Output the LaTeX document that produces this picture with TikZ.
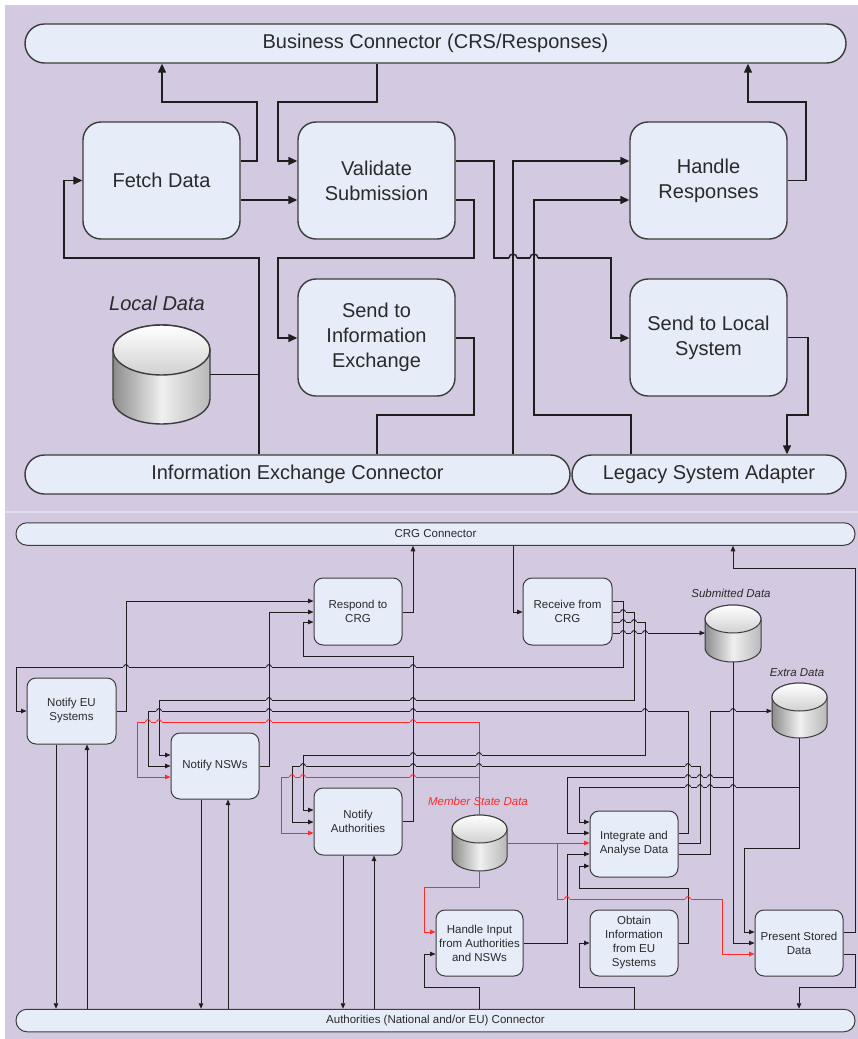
\documentclass[tikz,border=0pt]{standalone}
\usepackage{fontspec}
\setmainfont{Liberation Sans}
\usetikzlibrary{arrows.meta,calc}
\definecolor{lav}{HTML}{D3C9E0}
\definecolor{lavline}{HTML}{E3DCEC}
\definecolor{boxc}{HTML}{E6ECF8}
\definecolor{bordc}{HTML}{3C3C3C}
\definecolor{linec}{HTML}{1E1E1E}
\definecolor{txtc}{HTML}{2A2A2A}
\definecolor{redc}{HTML}{FF2A2A}
\newcommand\myTopFont{\fontsize{20}{25}\selectfont}
\newcommand\myBotFont{\fontsize{11.5}{14}\selectfont}
\newcommand\drawcyl[4]{% name, rx, ry, lw
  \path[draw=bordc, line width=#4, left color=black!45, right color=black!28, middle color=black!6]
    ([yshift=-#3pt]#1.north west) -- ([yshift=#3pt]#1.south west)
    arc[start angle=180,end angle=360,x radius=#2pt,y radius=#3pt]
    -- ([yshift=-#3pt]#1.north east)
    arc[start angle=0,end angle=180,x radius=#2pt,y radius=#3pt] -- cycle;
  \path[draw=bordc, line width=#4, top color=white, bottom color=black!18]
    ([yshift=-#3pt]#1.north) ellipse[x radius=#2pt, y radius=#3pt];
}
\newcommand\bhop[4]{% x, y, hcolor, vcolor
  \fill[lav] (#1-2.6,#2-1.1) rectangle (#1+2.6,#2+1.1);
  \draw[line width=0.9pt, draw=#4] (#1,#2-3.5) -- (#1,#2+3.5);
  \draw[line width=0.9pt, draw=#3] (#1-2.4,#2) arc[start angle=180,end angle=0,radius=2.4pt];
}
\newcommand\thop[2]{%
  \fill[lav] (#1-4.2,#2-1.3) rectangle (#1+4.2,#2+1.3);
  \draw[line width=1.4pt, draw=linec] (#1,#2-5) -- (#1,#2+5);
  \draw[line width=1.4pt, draw=linec] (#1-4,#2) arc[start angle=180,end angle=0,radius=4pt];
}
\begin{document}
\begin{tikzpicture}[x=1pt,y=-1pt,
  topbox/.style={draw=bordc, fill=boxc, line width=1.4pt, rounded corners=18pt,
    minimum width=157pt, minimum height=117pt, align=center, font=\myTopFont,
    text=txtc, inner sep=0pt},
  topbar/.style={draw=bordc, fill=boxc, line width=1.4pt, rounded corners=19.5pt,
    minimum height=39pt, font=\myTopFont, text=txtc, inner sep=0pt},
  botbox/.style={draw=bordc, fill=boxc, line width=1pt, rounded corners=9pt,
    minimum width=88pt, minimum height=66pt, align=center, font=\myBotFont,
    text=txtc, inner sep=0pt},
  botbar/.style={draw=bordc, fill=boxc, line width=1pt, rounded corners=11pt,
    minimum height=22.5pt, font=\myBotFont, text=txtc, inner sep=0pt},
  cylnode/.style={inner sep=0pt, outer sep=0pt},
  tline/.style={line width=1.4pt, draw=linec},
  tarr/.style={tline, -{Triangle[length=9pt,width=8pt]}},
  bline/.style={line width=0.9pt, draw=linec},
  barr/.style={bline, -{Triangle[length=5.5pt,width=4.5pt]}},
  rarr/.style={line width=0.9pt, draw=redc, -{Triangle[length=5.5pt,width=4.5pt]}},
  lbl/.style={font=\myBotFont\itshape, text=txtc, inner sep=0pt}
]
\useasboundingbox (0,0) rectangle (858,1039);
\fill[white] (0,0) rectangle (858,1039);
\fill[lav] (5,5) rectangle (858,1039);
\draw[lavline, line width=1.2pt] (5,512) -- (858,512);

% ---------------- TOP PANEL ----------------
\node[topbar, minimum width=821pt] (bc) at (435.5,43.5) {Business Connector (CRS/Responses)};
\node[topbar, minimum width=545pt] (iec) at (297.5,474.5) {Information Exchange Connector};
\node[topbar, minimum width=274pt] (legacy) at (709,474.5) {Legacy System Adapter};
\node[topbox] (fetch) at (161.5,180.5) {Fetch Data};
\node[topbox] (validate) at (376.5,180.5) {Validate\\Submission};
\node[topbox] (sendie) at (376.5,337.5) {Send to\\Information\\Exchange};
\node[topbox] (handle) at (708.5,180.5) {Handle\\Responses};
\node[topbox] (sendlocal) at (708.5,337.5) {Send to Local\\System};
\node[cylnode, minimum width=97pt, minimum height=99pt] (ld) at (161.5,374.5) {};
\drawcyl{ld}{48.5}{25}{1.4pt}
\node[font=\myTopFont\itshape, text=txtc, inner sep=0pt] (ldl) at (157,303) {Local Data};

\draw[tarr] (fetch.east |- 0,161) -- (257,161) |- (162,102) -- (bc.south -| 162,0);
\draw[tarr] (bc.south -| 377,0) |- (278,102) |- (validate.west |- 0,161);
\draw[tarr] (fetch.east |- 0,200) -- (validate.west |- 0,200);
\draw[tarr] (iec.north -| 259,0) |- (64,258) |- (fetch.west);
\draw[tline] (ld.east) -- (ld.east -| 259,0);
\draw[tarr] (validate.east |- 0,161) -- (494,161) |- (611,258) |- (sendlocal.west |- 0,338);
\draw[tarr] (validate.east |- 0,200) -- (474,200) |- (278,258) |- (sendie.west |- 0,338);
\draw[tline] (sendie.east |- 0,338) -- (474,338) |- (377,415) -- (iec.north -| 377,0);
\draw[tarr] (iec.north -| 513,0) |- (handle.west |- 0,161);
\draw[tarr] (legacy.north -| 631,0) |- (534,415) |- (handle.west |- 0,200);
\draw[tarr] (handle.east) -| (806,102) -| (bc.south -| 748,0);
\draw[tarr] (sendlocal.east) -| (808,415) -| (legacy.north -| 787,0);
\thop{513}{258}
\thop{534}{258}

% ---------------- BOTTOM PANEL ----------------
\node[botbar, minimum width=839pt] (crg) at (435.5,534) {CRG Connector};
\node[botbar, minimum width=839pt] (authconn) at (435.5,1020.5) {Authorities (National and/or EU) Connector};
\node[botbox, minimum height=67pt] (respond) at (358,611.5) {Respond to\\CRG};
\node[botbox, minimum width=89pt, minimum height=67pt] (receive) at (567.5,611.5) {Receive from\\CRG};
\node[botbox, minimum width=89pt] (notifyeu) at (71.5,711) {Notify EU\\Systems};
\node[botbox] (nsw) at (215,766) {Notify NSWs};
\node[botbox, minimum height=67pt] (auth) at (358,821.5) {Notify\\Authorities};
\node[botbox] (integrate) at (634,844) {Integrate and\\Analyse Data};
\node[botbox, minimum width=87pt] (handleinput) at (479.5,943) {Handle Input\\from Authorities\\and NSWs};
\node[botbox] (obtain) at (634,943) {Obtain\\Information\\from EU\\Systems};
\node[botbox] (present) at (799,943) {Present Stored\\Data};

\node[cylnode, minimum width=56pt, minimum height=57pt] (sd) at (733,633.5) {};
\drawcyl{sd}{28}{14}{1pt}
\node[cylnode, minimum width=55pt, minimum height=55pt] (ed) at (799.5,710.5) {};
\drawcyl{ed}{27.5}{14}{1pt}
\node[cylnode, minimum width=55pt, minimum height=56pt] (ms) at (479.5,843) {};
\drawcyl{ms}{27.5}{14}{1pt}
\node[lbl] (sdl) at (731,593) {Submitted Data};
\node[lbl] (edl) at (797,673) {Extra Data};
\node[lbl, text=redc] (msl) at (478,801) {Member State Data};

% red connectors
\draw[rarr] (ms.north) |- (137,722) |- (nsw.west |- 0,777);
\draw[rarr] (ms.north) |- (281,777) |- (auth.west |- 0,833);
\draw[rarr] (ms.east) -- (integrate.west |- ms.east);
\draw[rarr] (ms.east) -| (557,899) -| (722,954) -- (present.west |- 0,954);
\draw[rarr] (ms.south) |- (424,887) |- (handleinput.west |- 0,932);

% black connectors
\draw[barr] (crg.south -| 513,0) |- (receive.west |- 0,612);
\draw[barr] (respond.east |- 0,612) -| (crg.south -| 413,0);
\draw[barr] (notifyeu.east) -| (126,601) -- (respond.west |- 0,601);
\draw[barr] (nsw.east) -| (269,612) -- (respond.west |- 0,612);
\draw[barr] (auth.east) -| (413,656) -| (303,622) -- (respond.west |- 0,622);
\draw[barr] (receive.east |- 0,601) -| (623,667) -| (16,711) -- (notifyeu.west);
\draw[barr] (receive.east |- 0,612) -| (634,700) -| (159,755) -- (nsw.west |- 0,755);
\draw[barr] (receive.east |- 0,622) -| (645,755) -| (303,810) -- (auth.west |- 0,810);
\draw[barr] (receive.east |- 0,633) -- (sd.west |- 0,633);
\draw[barr] (integrate.east |- 0,833) -| (688,711) -| (148,766) -- (nsw.west |- 0,766);
\draw[barr] (integrate.east |- 0,843) -| (700,766) -| (292,822) -- (auth.west |- 0,822);
\draw[barr] (integrate.east |- 0,854) -| (710,711) -- (ed.west |- 0,711);
\draw[barr] (sd.south) |- (567,777) |- (integrate.west |- 0,833);
\draw[barr] (sd.south) |- (present.west |- 0,943);
\draw[barr] (ed.south) |- (579,787) |- (integrate.west |- 0,822);
\draw[barr] (ed.south) |- (744,848) |- (present.west |- 0,932);
\draw[barr] (handleinput.east) -| (567,854) -- (integrate.west |- 0,854);
\draw[barr] (obtain.east) -| (688,888) -| (579,866) -- (integrate.west |- 0,866);
\draw[barr] (present.east |- 0,932) -| (855,568) -| (crg.south -| 733,0);
\draw[barr] (present.east |- 0,954) -| (855,987) -| (authconn.north -| 799,0);
\draw[barr] (authconn.north -| 634,0) |- (579,987) |- (obtain.west);
\draw[barr] (authconn.north -| 479,0) |- (424,987) |- (handleinput.west |- 0,954);
\draw[barr] (notifyeu.south -| 56,0) -- (authconn.north -| 56,0);
\draw[barr] (authconn.north -| 87,0) -- (notifyeu.south -| 87,0);
\draw[barr] (nsw.south -| 201,0) -- (authconn.north -| 201,0);
\draw[barr] (authconn.north -| 228,0) -- (nsw.south -| 228,0);
\draw[barr] (auth.south -| 343,0) -- (authconn.north -| 343,0);
\draw[barr] (authconn.north -| 374,0) -- (auth.south -| 374,0);

% line hops
\foreach \xx in {126,269,413} {\bhop{\xx}{667}{linec}{linec}}
\foreach \xx in {269,413} {\bhop{\xx}{700}{linec}{linec}}
\foreach \xx in {159,269,413,645} {\bhop{\xx}{711}{linec}{linec}}
\foreach \xx in {148,159,269,413} {\bhop{\xx}{722}{redc}{linec}}
\bhop{413}{755}{linec}{linec}
\bhop{479}{755}{linec}{redc}
\foreach \xx in {303,413,688} {\bhop{\xx}{766}{linec}{linec}}
\bhop{479}{766}{linec}{redc}
\foreach \xx in {292,303,413} {\bhop{\xx}{777}{redc}{linec}}
\foreach \xx in {688,700,710} {\bhop{\xx}{777}{linec}{linec}}
\foreach \xx in {688,700,710,733} {\bhop{\xx}{787}{linec}{linec}}
\bhop{733}{711}{linec}{linec}
\bhop{623}{612}{linec}{linec}
\foreach \xx in {623,634} {\bhop{\xx}{622}{linec}{linec}}
\foreach \xx in {623,634,645} {\bhop{\xx}{633}{linec}{linec}}
\foreach \xx in {567,688} {\bhop{\xx}{899}{redc}{linec}}
\end{tikzpicture}
\end{document}
